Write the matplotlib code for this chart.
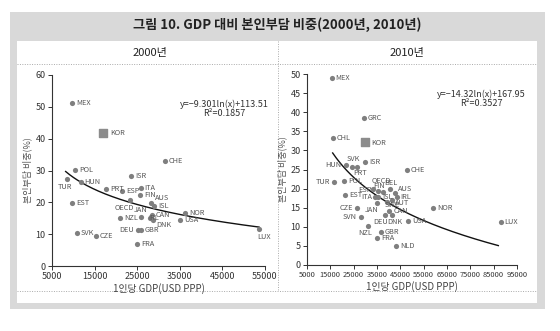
import numpy as np
import matplotlib
matplotlib.use("Agg")
import matplotlib.pyplot as plt
from matplotlib.patches import Rectangle

plt.rcParams['font.family'] = ['Noto Sans CJK KR', 'DejaVu Sans']

W, H = 560, 331

# 2000
countries_2000 = ['MEX', 'KOR', 'CHE', 'POL', 'ISR', 'TUR', 'HUN', 'PRT', 'ESP', 'ITA',
                  'FIN', 'OECD', 'EST', 'AUS', 'ISL', 'NOR', 'CAN', 'USA', 'JAN', 'NZL',
                  'IRL', 'DNK', 'DEU', 'GBR', 'FRA', 'CZE', 'SVK', 'LUX']
gdp_2000 = [9800, 17000, 31500, 10400, 23500, 8500, 11700, 17700, 21400, 25800,
            25700, 23300, 9800, 28200, 28900, 36200, 28500, 35000, 25800, 21000,
            28000, 28800, 25100, 25800, 25000, 15300, 10800, 53600]
share_2000 = [51.1, 41.8, 33.1, 30.2, 28.3, 27.4, 26.3, 24.1, 23.6, 24.5,
              22.2, 20.7, 19.8, 19.7, 18.9, 16.6, 16.1, 14.6, 15.3, 15.2,
              15.2, 14.5, 11.2, 11.2, 7.0, 9.5, 10.5, 11.7]
fit_2000 = (-9.301, 113.51)
r2_2000 = '0.1857'

# 2010
countries_2010 = ['MEX', 'GRC', 'CHL', 'KOR', 'ISR', 'CHE', 'HUN', 'SVK', 'PRT', 'TUR',
                  'POL', 'EST', 'CZE', 'NOR', 'SVN', 'NZL', 'GBR', 'FRA', 'NLD', 'USA',
                  'LUX', 'DEU', 'DNK', 'CAN', 'JAN', 'OECD', 'ESP', 'FIN', 'BEL', 'AUS',
                  'IRL', 'AUT', 'ITA', 'ISL', 'SWE']
gdp_2010 = [15600, 29400, 16000, 29700, 29900, 47700, 21600, 24200, 26300, 16600,
            20900, 21200, 26300, 58900, 28100, 31300, 36700, 35100, 43200, 48200,
            88000, 38400, 41300, 40200, 34900, 35600, 33400, 37700, 40600, 42700,
            43500, 41300, 34100, 35600, 39200]
share_2010 = [49.0, 38.4, 33.2, 32.3, 27.0, 25.0, 26.2, 25.7, 25.7, 21.7,
              21.9, 18.3, 14.8, 15.0, 12.6, 10.3, 8.7, 7.1, 5.0, 11.6,
              11.3, 13.1, 13.1, 14.2, 16.1, 19.5, 19.8, 19.2, 19.8, 18.8,
              17.9, 17.0, 17.7, 17.9, 16.6]
fit_2010 = (-14.32, 167.95)
r2_2010 = '0.3527'

# label placement (pixels offset, alignment); default is right of dot
lab_2000 = {
    'KOR': (7, 0, 'left'),
    'TUR': (-2, -8, 'center'), 'LUX': (5, -8, 'center'), 'OECD': (-6, -8, 'center'),
    'JAN': (0, 7, 'center'), 'DNK': (3, -5, 'left'), 'AUS': (4, 5, 'left'),
    'DEU': (-4, 0, 'right'), 'IRL': (-2, 0, 'left'),
}
lab_2010 = {
    'KOR': (7, -1, 'left'),
    'HUN': (-4, 0, 'right'), 'SVK': (2, 8, 'center'), 'PRT': (3, -6, 'center'),
    'TUR': (-4, 0, 'right'), 'CZE': (-4, 0, 'right'), 'SVN': (-4, 0, 'right'),
    'NZL': (-3, -7, 'center'), 'DEU': (-4, -7, 'center'), 'DNK': (3, -7, 'center'),
    'JAN': (-5, -7, 'center'), 'OECD': (3, 10, 'center'), 'FIN': (-4, 6, 'center'),
    'BEL': (1, 6, 'center'), 'AUS': (3, 4, 'left'), 'IRL': (3, 0, 'left'),
    'AUT': (3, -3, 'left'), 'ESP': (-2, -1, 'right'), 'ITA': (-3, 0, 'right'),
    'SWE': (-2, -3, 'left'),
}


def fr(x0, y0, x1, y1):
    return [x0 / W, 1 - y1 / H, (x1 - x0) / W, (y1 - y0) / H]


fig = plt.figure(figsize=(W / 100, H / 100), dpi=100)
fig.patch.set_facecolor('white')

gray = '#d9d9d9'
fig.patches.append(Rectangle((10 / W, 1 - 309 / H), 535 / W, 297 / H,
                             transform=fig.transFigure, facecolor=gray, edgecolor='none', zorder=-5))
fig.patches.append(Rectangle((17 / W, 1 - 303 / H), 520 / W, 262 / H,
                             transform=fig.transFigure, facecolor='white', edgecolor='none', zorder=-4))

fig.text(277 / W, 1 - 25 / H, '그림 10. GDP 대비 본인부담 비중(2000년, 2010년)',
         ha='center', va='center', fontsize=9.5, fontweight='bold', color='#222222')
fig.text(150 / W, 1 - 53 / H, '2000년', ha='center', va='center', fontsize=8, color='#222222')
fig.text(407 / W, 1 - 53 / H, '2010년', ha='center', va='center', fontsize=8, color='#222222')

dot = dict(color='#aaaaaa', linestyle=(0, (1, 1.5)), linewidth=0.7,
           transform=fig.transFigure, zorder=-3)
fig.add_artist(plt.Line2D([17 / W, 537 / W], [1 - 64 / H, 1 - 64 / H], **dot))
fig.add_artist(plt.Line2D([17 / W, 537 / W], [1 - 291 / H, 1 - 291 / H], **dot))
fig.add_artist(plt.Line2D([278 / W, 278 / W], [1 - 41 / H, 1 - 291 / H], **dot))


def panel(rect, names, gdp, share, fit, r2, labels, xlim, ylim, yticks, eqpos, curve_rng, xsize):
    ax = fig.add_axes(rect)
    ax.set_facecolor('none')
    for s in ['top', 'right']:
        ax.spines[s].set_visible(False)
    for s in ['left', 'bottom']:
        ax.spines[s].set_color('#333333')
        ax.spines[s].set_linewidth(0.8)
    ax.set_xlim(*xlim)
    ax.set_ylim(*ylim)
    ax.set_xticks(np.arange(xlim[0], xlim[1] + 1, 10000))
    ax.set_yticks(yticks)
    ax.tick_params(direction='out', length=3, width=0.7, labelsize=6.5,
                   colors='#333333', pad=1.5)
    ax.tick_params(axis='x', labelsize=xsize)
    ax.set_ylabel('본인부담 비중(%)', fontsize=6.5, color='#555555', labelpad=2)
    ax.set_xlabel('1인당 GDP(USD PPP)', fontsize=7, color='#444444', labelpad=1)

    for n, x, y in zip(names, gdp, share):
        if n == 'KOR':
            ax.scatter(x, y, s=30, marker='s', color='#8c8c8c', zorder=3, clip_on=False)
        else:
            ax.scatter(x, y, s=14, color='#7f7f7f', zorder=3, clip_on=False, linewidths=0)
        dx, dy, ha = labels.get(n, (4, 0, 'left'))
        ax.annotate(n, (x, y), xytext=(dx, dy), textcoords='offset pixels',
                    ha=ha, va='center', fontsize=5.3, color='#555555', zorder=4)

    xs = np.linspace(curve_rng[0], curve_rng[1], 200)
    ax.plot(xs, fit[0] * np.log(xs) + fit[1], color='#111111', lw=1.0, zorder=2)

    eq = 'y=\u2212%sln(x)+%s' % (str(abs(fit[0])), str(fit[1]))
    ax.text(eqpos[0], eqpos[1], eq, transform=ax.transAxes,
            ha='center', va='center', fontsize=6.5, color='#333333')
    ax.text(eqpos[0], eqpos[1] - 0.047, 'R\u00b2=' + r2, transform=ax.transAxes,
            ha='center', va='center', fontsize=6.5, color='#333333')
    return ax


panel(fr(52, 75, 265, 266), countries_2000, gdp_2000, share_2000, fit_2000, r2_2000,
      lab_2000, (5000, 55000), (0, 60), range(0, 61, 10), (0.81, 0.845), (8200, 53600), 6.5)
panel(fr(307, 74, 517, 265), countries_2010, gdp_2010, share_2010, fit_2010, r2_2010,
      lab_2010, (5000, 95000), (0, 50), range(0, 51, 5), (0.83, 0.895), (16000, 87000), 5.4)

fig.savefig('out.png', dpi=100)
